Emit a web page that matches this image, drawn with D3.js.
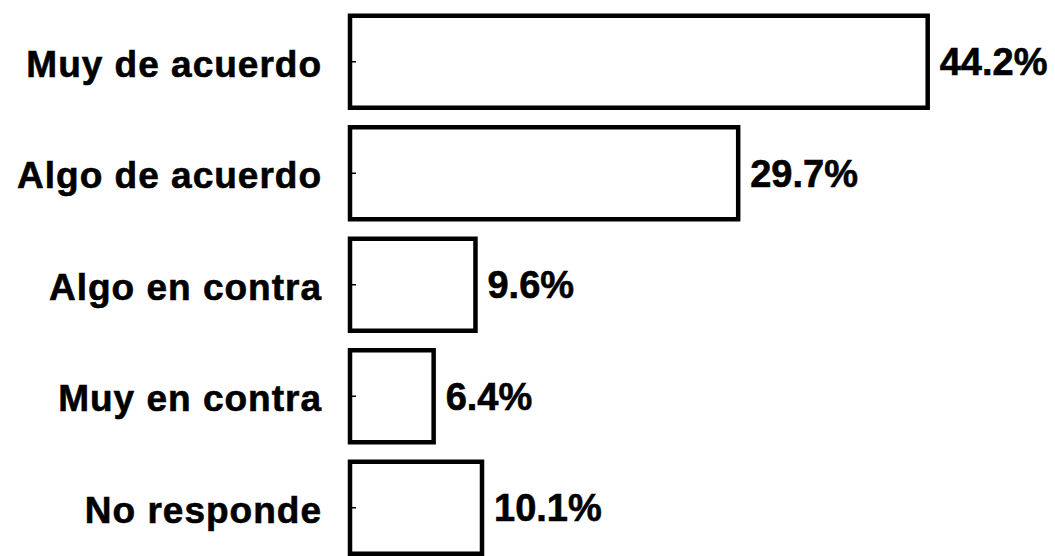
<html lang="es">
<head>
    <meta charset="UTF-8">
    <title>Muy de acuerdo / No responde</title>
    <script src="https://d3js.org/d3.v7.min.js"></script>
    <style>
        body { margin: 0; background: #fff; }
        svg { font-family: "Liberation Sans", Arial, sans-serif; font-weight: bold; }
        text { stroke: #000; stroke-width: 0.6px; }
    </style>
</head>
<body>
    <script>
        // data
        const categories = ["Muy de acuerdo", "Algo de acuerdo", "Algo en contra", "Muy en contra", "No responde"];
        const values = [44.2, 29.7, 9.6, 6.4, 10.1];
        const valueLabels = ["44.2%", "29.7%", "9.6%", "6.4%", "10.1%"];

        const width = 1055;
        const height = 556;
        const left = 350;

        const x = d3.scaleLinear()
            .domain([0, 50])
            .range([left, left + 653.5]);

        const y = d3.scaleBand()
            .domain(categories)
            .range([6, 563.5])
            .paddingInner(0.175)
            .paddingOuter(0.0875);

        const svg = d3.select("body")
            .append("svg")
            .attr("width", width)
            .attr("height", height);

        // bars, white with thick black outline
        svg.append("g")
            .selectAll("rect")
            .data(categories)
            .join("rect")
            .attr("x", x(0))
            .attr("y", d => y(d))
            .attr("width", (d, i) => x(values[i]) - x(0))
            .attr("height", y.bandwidth())
            .attr("fill", "#fff")
            .attr("stroke", "#000")
            .attr("stroke-width", 4.5);

        // axis: small inward ticks, labels on the left
        const axis = svg.append("g")
            .attr("transform", `translate(${left},0)`)
            .call(d3.axisLeft(y).tickSizeInner(-6).tickSizeOuter(0).tickPadding(28));

        axis.select(".domain").remove();
        axis.selectAll(".tick line")
            .attr("stroke", "#000")
            .attr("stroke-width", 1.5);
        axis.selectAll(".tick text")
            .attr("fill", "#000")
            .style("font-size", "37px")
            .style("font-weight", "bold")
            .style("letter-spacing", "1px")
            .attr("dy", "0.4em");

        // value labels
        svg.append("g")
            .selectAll("text")
            .data(categories)
            .join("text")
            .attr("x", (d, i) => x(values[i]) + 12)
            .attr("y", d => y(d) + y.bandwidth() / 2)
            .attr("dy", "0.36em")
            .style("font-size", "38px")
            .text((d, i) => valueLabels[i]);
    </script>
</body>
</html>
